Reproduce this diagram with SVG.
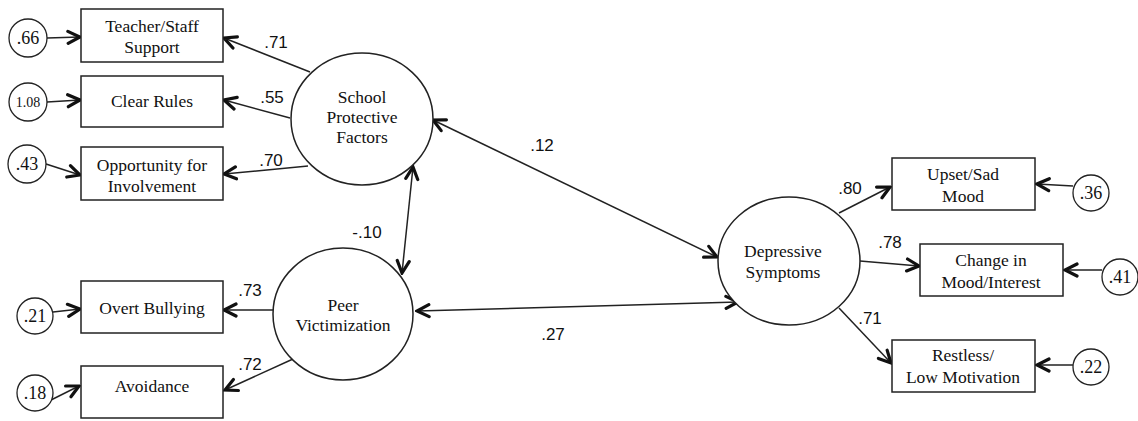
<svg xmlns="http://www.w3.org/2000/svg" width="1138" height="421" viewBox="0 0 1138 421">
  <style>
    .box { fill: #fff; stroke: #222; stroke-width: 1.5; }
    .lat { fill: #fff; stroke: #222; stroke-width: 1.5; }
    .err { fill: #fff; stroke: #222; stroke-width: 1.3; }
    .t { font-family: "Liberation Serif", "DejaVu Serif", "Times New Roman", serif; font-size: 17.5px; fill: #111; text-anchor: middle; }
    .e { font-family: "Liberation Serif", "DejaVu Serif", "Times New Roman", serif; font-size: 18px; fill: #111; text-anchor: middle; }
    .e2 { font-size: 14px; }
    .w { font-family: "Liberation Sans", Arial, sans-serif; font-size: 17px; fill: #111; text-anchor: middle; }
    .c { fill: none; stroke: #222; stroke-width: 1.5; }
  </style>
  <defs>
    <marker id="ah" viewBox="0 0 16 16" refX="14" refY="8" markerWidth="16" markerHeight="16" markerUnits="userSpaceOnUse" orient="auto-start-reverse">
      <path d="M2,2 L14,8 L2,14" fill="none" stroke="#111" stroke-width="3.2" stroke-linecap="round" stroke-linejoin="miter"/>
    </marker>
  </defs>

  <rect width="1138" height="421" fill="#fff"/>

  <!-- connectors -->
  <g id="connectors">
    <!-- residuals into indicators -->
    <line class="c" x1="47" y1="38" x2="80" y2="37" marker-end="url(#ah)"/>
    <line class="c" x1="47" y1="102" x2="80" y2="100" marker-end="url(#ah)"/>
    <line class="c" x1="46" y1="164" x2="80" y2="175" marker-end="url(#ah)"/>
    <line class="c" x1="53" y1="312" x2="80" y2="309" marker-end="url(#ah)"/>
    <line class="c" x1="51" y1="400" x2="79" y2="386" marker-end="url(#ah)"/>
    <line class="c" x1="1073" y1="186" x2="1037" y2="184" marker-end="url(#ah)"/>
    <line class="c" x1="1102" y1="270" x2="1065" y2="270" marker-end="url(#ah)"/>
    <line class="c" x1="1073" y1="365" x2="1037" y2="365" marker-end="url(#ah)"/>

    <!-- loadings -->
    <line class="c" x1="310" y1="72" x2="224" y2="38" marker-end="url(#ah)"/>
    <line class="c" x1="290" y1="118" x2="224" y2="100" marker-end="url(#ah)"/>
    <line class="c" x1="308" y1="166" x2="224" y2="174" marker-end="url(#ah)"/>
    <line class="c" x1="273" y1="310" x2="224" y2="310" marker-end="url(#ah)"/>
    <line class="c" x1="293" y1="359" x2="225" y2="390" marker-end="url(#ah)"/>
    <line class="c" x1="839" y1="213" x2="890" y2="187" marker-end="url(#ah)"/>
    <line class="c" x1="860" y1="261" x2="919" y2="266" marker-end="url(#ah)"/>
    <line class="c" x1="839" y1="308" x2="891" y2="363" marker-end="url(#ah)"/>

    <!-- covariances -->
    <line class="c" x1="413" y1="167" x2="402" y2="273" marker-start="url(#ah)" marker-end="url(#ah)"/>
    <line class="c" x1="433" y1="120" x2="717" y2="257" marker-start="url(#ah)" marker-end="url(#ah)"/>
    <line class="c" x1="417" y1="311" x2="738" y2="302" marker-start="url(#ah)" marker-end="url(#ah)"/>

    <!-- path weights -->
    <text class="w" x="276" y="48">.71</text>
    <text class="w" x="272" y="103">.55</text>
    <text class="w" x="271" y="166">.70</text>
    <text class="w" x="250" y="296">.73</text>
    <text class="w" x="250" y="370">.72</text>
    <text class="w" x="367" y="238">-.10</text>
    <text class="w" x="542" y="151">.12</text>
    <text class="w" x="553" y="340">.27</text>
    <text class="w" x="850" y="194">.80</text>
    <text class="w" x="890" y="248">.78</text>
    <text class="w" x="870" y="324">.71</text>
  </g>

  <!-- latent variables -->
  <g id="school-protective-factors">
    <ellipse class="lat" cx="362" cy="119" rx="71" ry="66"/>
    <text class="t" x="362" y="103">School</text>
    <text class="t" x="362" y="123">Protective</text>
    <text class="t" x="362" y="143">Factors</text>
  </g>
  <g id="peer-victimization">
    <ellipse class="lat" cx="343" cy="314" rx="70" ry="66"/>
    <text class="t" x="343" y="311">Peer</text>
    <text class="t" x="343" y="331">Victimization</text>
  </g>
  <g id="depressive-symptoms">
    <ellipse class="lat" cx="789" cy="261" rx="71" ry="64"/>
    <text class="t" x="783" y="257">Depressive</text>
    <text class="t" x="783" y="278">Symptoms</text>
  </g>

  <!-- indicators -->
  <g id="teacher-staff-support">
    <rect class="box" x="81" y="9" width="142" height="53"/>
    <text class="t" x="152" y="32">Teacher/Staff</text>
    <text class="t" x="152" y="53">Support</text>
  </g>
  <g id="clear-rules">
    <rect class="box" x="81" y="76" width="142" height="51"/>
    <text class="t" x="152" y="107">Clear Rules</text>
  </g>
  <g id="opportunity-for-involvement">
    <rect class="box" x="81" y="147" width="142" height="53"/>
    <text class="t" x="152" y="171">Opportunity for</text>
    <text class="t" x="152" y="192">Involvement</text>
  </g>
  <g id="overt-bullying">
    <rect class="box" x="81" y="281" width="142" height="52"/>
    <text class="t" x="152" y="314">Overt Bullying</text>
  </g>
  <g id="avoidance">
    <rect class="box" x="81" y="366" width="142" height="52"/>
    <text class="t" x="152" y="392">Avoidance</text>
  </g>
  <g id="upset-sad-mood">
    <rect class="box" x="892" y="158" width="143" height="52"/>
    <text class="t" x="963" y="180">Upset/Sad</text>
    <text class="t" x="963" y="202">Mood</text>
  </g>
  <g id="change-in-mood-interest">
    <rect class="box" x="920" y="244" width="143" height="52"/>
    <text class="t" x="991" y="266">Change in</text>
    <text class="t" x="991" y="288">Mood/Interest</text>
  </g>
  <g id="restless-low-motivation">
    <rect class="box" x="892" y="340" width="143" height="52"/>
    <text class="t" x="963" y="361">Restless/</text>
    <text class="t" x="963" y="383">Low Motivation</text>
  </g>

  <!-- residual variances -->
  <g id="err-teacher">
    <circle class="err" cx="28" cy="38" r="19"/>
    <text class="e" x="28" y="44">.66</text>
  </g>
  <g id="err-rules">
    <circle class="err" cx="28" cy="102" r="19"/>
    <text class="e e2" x="28" y="107">1.08</text>
  </g>
  <g id="err-opportunity">
    <circle class="err" cx="27" cy="164" r="19"/>
    <text class="e" x="27" y="170">.43</text>
  </g>
  <g id="err-bullying">
    <circle class="err" cx="35" cy="316" r="18"/>
    <text class="e" x="35" y="322">.21</text>
  </g>
  <g id="err-avoidance">
    <circle class="err" cx="35" cy="393" r="18"/>
    <text class="e" x="35" y="399">.18</text>
  </g>
  <g id="err-upset">
    <circle class="err" cx="1091" cy="193" r="18"/>
    <text class="e" x="1091" y="199">.36</text>
  </g>
  <g id="err-change">
    <circle class="err" cx="1120" cy="277" r="18"/>
    <text class="e" x="1120" y="283">.41</text>
  </g>
  <g id="err-restless">
    <circle class="err" cx="1091" cy="367" r="18"/>
    <text class="e" x="1091" y="373">.22</text>
  </g>
</svg>
